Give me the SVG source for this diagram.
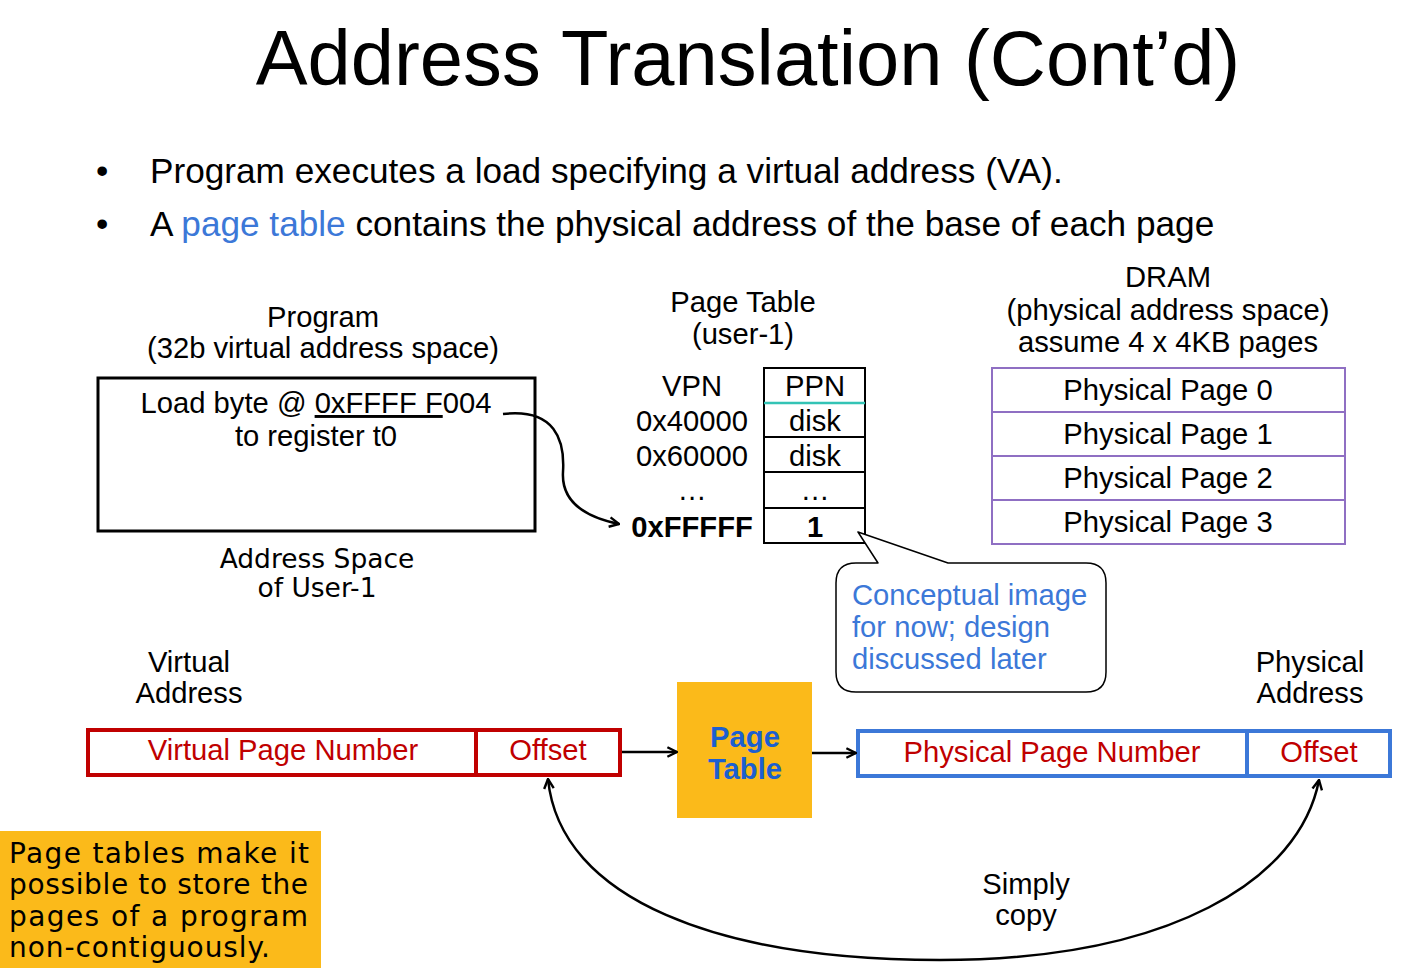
<svg xmlns="http://www.w3.org/2000/svg" width="1401" height="976" viewBox="0 0 1401 976">
<defs>
<style>
text{font-family:"Liberation Sans",Arial,sans-serif;fill:#000}
.t28{font-size:29.2px}
.c{text-anchor:middle}
.dv{font-family:"DejaVu Sans",Verdana,sans-serif}
.line{fill:none;stroke:#000;stroke-width:2.5}
.red{fill:#c00000}
.blue{fill:#3c78d8}
.ptb{fill:#1c5fd0;font-weight:bold}
</style>
<marker id="ah2" viewBox="0 0 10 10" refX="9" refY="5" markerWidth="12" markerHeight="12" orient="auto-start-reverse" markerUnits="userSpaceOnUse"><path d="M1,1 L9,5 L1,9" fill="none" stroke="#000" stroke-width="2"/></marker>
</defs>
<rect width="1401" height="976" fill="#fff"/>

<g id="title">
<text x="748" y="85" class="c" style="font-size:77.7px">Address Translation (Cont’d)</text>
</g>

<g id="bullets" style="font-size:35.2px">
<text x="96" y="183">•</text>
<text x="150" y="183">Program executes a load specifying a virtual address (VA).</text>
<text x="96" y="236">•</text>
<text x="150" y="236">A <tspan fill="#3c78d8">page table</tspan> contains the physical address of the base of each page</text>
</g>

<g id="program">
<text x="323" y="327" class="t28 c">Program</text>
<text x="323" y="358" class="t28 c">(32b virtual address space)</text>
<rect x="98" y="378" width="437" height="153" fill="#fff" stroke="#000" stroke-width="3"/>
<text x="316" y="413" class="t28 c">Load byte @ <tspan text-decoration="underline">0xFFFF F</tspan>004</text>
<text x="316" y="446" class="t28 c">to register t0</text>
<text x="317" y="568" class="dv c" style="font-size:26.5px">Address Space</text>
<text x="317" y="597" class="dv c" style="font-size:26.5px">of User-1</text>
</g>

<g id="pagetable">
<text x="743" y="312" class="t28 c">Page Table</text>
<text x="743" y="344" class="t28 c">(user-1)</text>
<text x="692" y="396" class="t28 c">VPN</text>
<text x="692" y="431" class="t28 c">0x40000</text>
<text x="692" y="466" class="t28 c">0x60000</text>
<text x="692" y="500" class="t28 c">…</text>
<text x="692" y="537" class="t28 c" style="font-weight:bold">0xFFFFF</text>
<rect x="764" y="368" width="101" height="175" fill="none" stroke="#000" stroke-width="2"/>
<line x1="764" y1="437" x2="865" y2="437" stroke="#000" stroke-width="2"/>
<line x1="764" y1="472" x2="865" y2="472" stroke="#000" stroke-width="2"/>
<line x1="764" y1="508" x2="865" y2="508" stroke="#000" stroke-width="2"/>
<line x1="764" y1="403" x2="865" y2="403" stroke="#33c3b5" stroke-width="2.5"/>
<text x="815" y="396" class="t28 c">PPN</text>
<text x="815" y="431" class="t28 c">disk</text>
<text x="815" y="466" class="t28 c">disk</text>
<text x="815" y="500" class="t28 c">…</text>
<text x="815" y="537" class="t28 c" style="font-weight:bold">1</text>
</g>

<g id="callout">
<path d="M878,563 L858,532 L948,563 L1086,563 Q1106,563 1106,583 L1106,672 Q1106,692 1086,692 L856,692 Q836,692 836,672 L836,583 Q836,563 856,563 Z" fill="#fff" stroke="#000" stroke-width="1.5" stroke-linejoin="round"/>
<text x="852" y="605" class="t28 blue">Conceptual image</text>
<text x="852" y="637" class="t28 blue">for now; design</text>
<text x="852" y="669" class="t28 blue">discussed later</text>
</g>

<g id="dram">
<text x="1168" y="287" class="t28 c">DRAM</text>
<text x="1168" y="320" class="t28 c">(physical address space)</text>
<text x="1168" y="352" class="t28 c">assume 4 x 4KB pages</text>
<rect x="992" y="368" width="353" height="176" fill="none" stroke="#8f6fc3" stroke-width="2"/>
<line x1="992" y1="412" x2="1345" y2="412" stroke="#8f6fc3" stroke-width="2"/>
<line x1="992" y1="456" x2="1345" y2="456" stroke="#8f6fc3" stroke-width="2"/>
<line x1="992" y1="500" x2="1345" y2="500" stroke="#8f6fc3" stroke-width="2"/>
<text x="1168" y="400" class="t28 c">Physical Page 0</text>
<text x="1168" y="444" class="t28 c">Physical Page 1</text>
<text x="1168" y="488" class="t28 c">Physical Page 2</text>
<text x="1168" y="532" class="t28 c">Physical Page 3</text>
</g>

<g id="virtual-address">
<text x="189" y="672" class="t28 c">Virtual</text>
<text x="189" y="703" class="t28 c">Address</text>
<rect x="88" y="730" width="532" height="45" fill="#fff" stroke="#c00000" stroke-width="4"/>
<line x1="476" y1="730" x2="476" y2="775" stroke="#c00000" stroke-width="4"/>
<text x="283" y="760" class="t28 c red">Virtual Page Number</text>
<text x="548" y="760" class="t28 c red">Offset</text>
</g>

<g id="pt-box">
<rect x="677" y="682" width="135" height="136" fill="#fbba1a"/>
<text x="745" y="747" class="t28 c ptb">Page</text>
<text x="745" y="779" class="t28 c ptb">Table</text>
</g>

<g id="physical-address">
<text x="1310" y="672" class="t28 c">Physical</text>
<text x="1310" y="703" class="t28 c">Address</text>
<rect x="858" y="731" width="532" height="45" fill="#fff" stroke="#3c78d8" stroke-width="4"/>
<line x1="1247" y1="731" x2="1247" y2="776" stroke="#3c78d8" stroke-width="4"/>
<text x="1052" y="762" class="t28 c red">Physical Page Number</text>
<text x="1319" y="762" class="t28 c red">Offset</text>
</g>

<g id="note">
<rect x="0" y="831" width="321" height="137" fill="#fbba1a"/>
<text x="9" y="863" class="dv" style="font-size:28px" textLength="300" lengthAdjust="spacing">Page tables make it</text>
<text x="9" y="894" class="dv" style="font-size:28px" textLength="299" lengthAdjust="spacing">possible to store the</text>
<text x="9" y="926" class="dv" style="font-size:28px" textLength="299" lengthAdjust="spacing">pages of a program</text>
<text x="9" y="957" class="dv" style="font-size:28px" textLength="261" lengthAdjust="spacing">non-contiguously.</text>
</g>

<g id="copy-label">
<text x="1026" y="894" class="t28 c">Simply</text>
<text x="1026" y="925" class="t28 c">copy</text>
</g>

<g id="connectors">
<path class="line" d="M503,414 C555,408 565,440 563,472 C561,505 590,518 619,524" marker-end="url(#ah2)"/>
<line class="line" x1="622" y1="752" x2="677" y2="752" marker-end="url(#ah2)"/>
<line class="line" x1="812" y1="753" x2="856" y2="753" marker-end="url(#ah2)"/>
<path class="line" d="M548,779 C560,900 720,960 940,960 C1170,960 1300,880 1319,780" marker-start="url(#ah2)" marker-end="url(#ah2)"/>
</g>
</svg>
